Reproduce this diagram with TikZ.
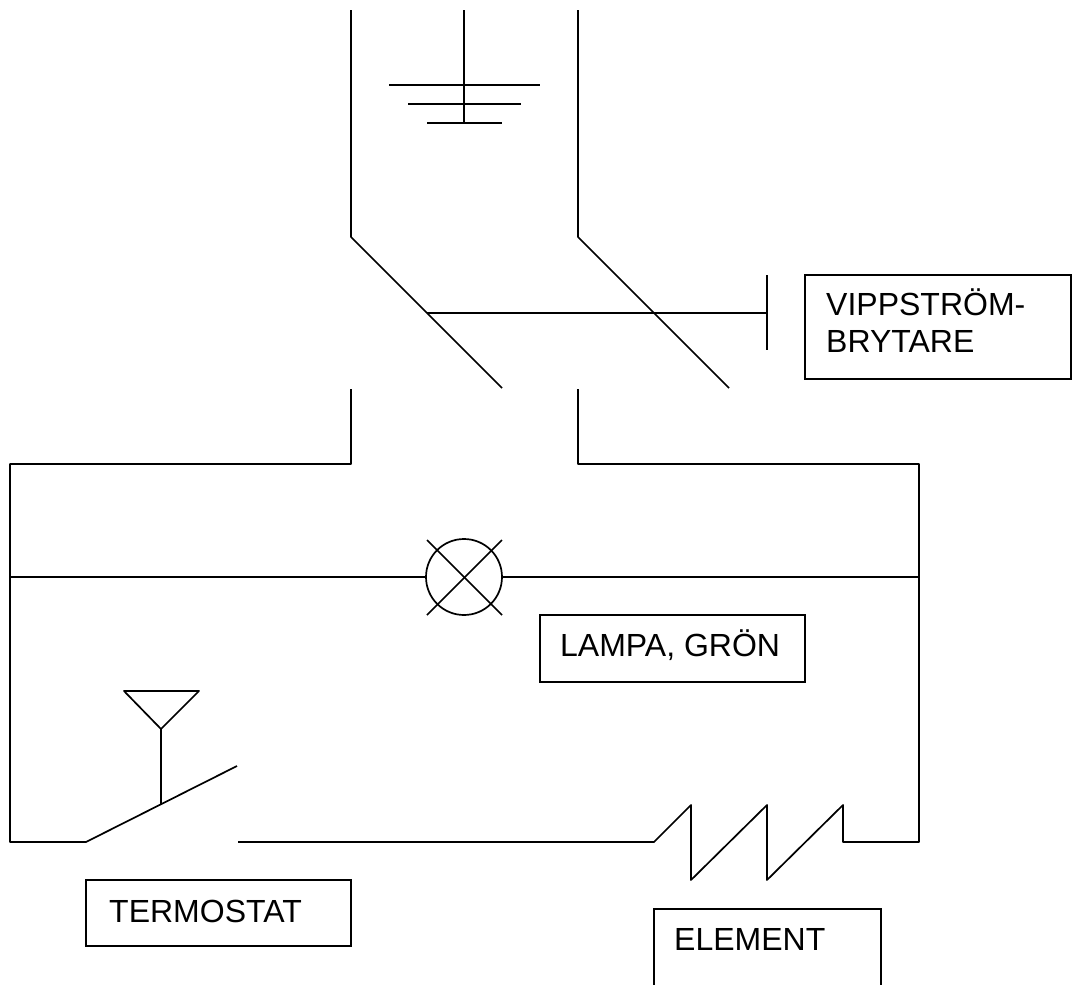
\documentclass[tikz,border=0pt]{standalone}
\usepackage{fontspec}
\setmainfont{Liberation Sans}
\tikzset{
  wire/.style={draw=black,line width=1.7pt,line cap=butt,line join=round},
  lbox/.style={draw=black,line width=1.7pt,line join=miter},
  lbl/.style={font=\fontsize{32pt}{37pt}\selectfont,anchor=base west,inner sep=0pt}
}
\begin{document}
\begin{tikzpicture}[x=1pt,y=-1pt]
\useasboundingbox (0,0) rectangle (1072,985);
\fill[white] (0,0) rectangle (1072,985);
% earth
\coordinate (G0) at (464,10);
\coordinate (G1) at (464,123);
\draw[wire] (G0) -- (G1);
\draw[wire] (389,85) -- (540,85);
\draw[wire] (408,104) -- (521,104);
\draw[wire] (427,123) -- (502,123);
% switch
\coordinate (LT) at (351,10);
\coordinate (LK) at (351,237);
\coordinate (LE) at (502,388);
\coordinate (RT) at (578,10);
\coordinate (RK) at (578,237);
\coordinate (RE) at (729,388);
\coordinate (A) at (427,313);
\coordinate (B) at (767,313);
\coordinate (B1) at (767,275);
\coordinate (B2) at (767,350);
\draw[wire] (LT) -- (LK) -- (LE);
\draw[wire] (RT) -- (RK) -- (RE);
\draw[wire] (A) -- (B);
\draw[wire] (B1) -- (B2);
% lower circuit
\coordinate (C1) at (351,389);
\coordinate (C2) at (351,464);
\coordinate (C3) at (10,464);
\coordinate (C4) at (10,842);
\coordinate (C5) at (86,842);
\coordinate (C6) at (237,766);
\draw[wire] (C1) -- (C2) -- (C3) -- (C4) -- (C5) -- (C6);
\coordinate (D1) at (578,389);
\coordinate (D2) at (578,464);
\coordinate (D3) at (919,464);
\coordinate (D4) at (919,842);
\coordinate (D5) at (843,842);
\coordinate (D6) at (843,805);
\coordinate (D7) at (767,880);
\coordinate (D8) at (767,805);
\coordinate (D9) at (691,880);
\coordinate (D10) at (691,805);
\coordinate (D11) at (654,842);
\coordinate (D12) at (238,842);
\draw[wire] (D1) -- (D2) -- (D3) -- (D4) -- (D5) -- (D6) -- (D7) -- (D8) -- (D9) -- (D10) -- (D11) -- (D12);
% lamp
\node[circle,draw=black,line width=1.7pt,minimum size=76pt,inner sep=0pt] (lamp) at (464,577) {};
\coordinate (WL) at (10,577);
\coordinate (WR) at (919,577);
\draw[wire] (WL) -- (lamp.west);
\draw[wire] (lamp.east) -- (WR);
\draw[wire] (427,540) -- (502,615);
\draw[wire] (502,540) -- (427,615);
% thermostat
\coordinate (T0) at (161,805);
\coordinate (T1) at (161,729);
\draw[wire] (T0) -- (T1);
\draw[wire] (T1) -- (124,691) -- (199,691) -- cycle;
% labels
\draw[lbox] (805,275) rectangle (1071,379);
\node[lbl] (v1) at (826,315) {VIPPSTRÖM-};
\node[lbl] (v2) at (826,352) {BRYTARE};
\draw[lbox] (540,615) rectangle (805,682);
\node[lbl] (l) at (560,656) {LAMPA, GRÖN};
\draw[lbox] (86,880) rectangle (351,946);
\node[lbl] (t) at (109,922) {TERMOSTAT};
\draw[lbox] (654,985) -- (654,909) -- (881,909) -- (881,985);
\node[lbl] (e) at (674,950) {ELEMENT};
\end{tikzpicture}
\end{document}
